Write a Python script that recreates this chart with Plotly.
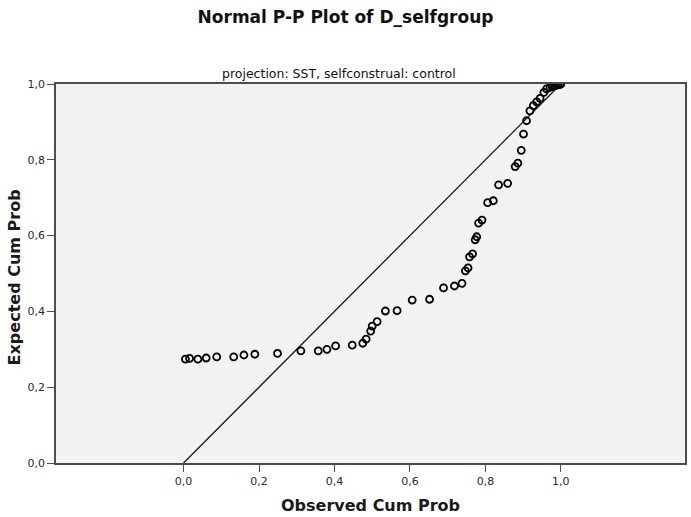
import plotly.graph_objects as go

# Observed cumulative probability (x) and expected cumulative probability (y)
observed_cum_prob = [
    0.005, 0.016, 0.038, 0.060, 0.088, 0.133, 0.160, 0.189, 0.249, 0.311,
    0.357, 0.380, 0.403, 0.447, 0.475, 0.484, 0.496, 0.500, 0.513, 0.535,
    0.566, 0.606, 0.652, 0.689, 0.718, 0.738, 0.747, 0.754, 0.758, 0.766,
    0.773, 0.777, 0.782, 0.791, 0.806, 0.821, 0.835, 0.859, 0.879, 0.886,
    0.895, 0.901, 0.909, 0.918, 0.927, 0.936, 0.945, 0.955, 0.962, 0.971,
    0.977, 0.983, 0.988, 0.993, 0.998, 1.000,
]
expected_cum_prob = [
    0.274, 0.276, 0.274, 0.277, 0.280, 0.280, 0.285, 0.287, 0.289, 0.296,
    0.296, 0.300, 0.309, 0.311, 0.316, 0.327, 0.348, 0.361, 0.373, 0.401,
    0.402, 0.430, 0.432, 0.462, 0.467, 0.474, 0.507, 0.515, 0.544, 0.552,
    0.589, 0.597, 0.633, 0.641, 0.687, 0.692, 0.734, 0.738, 0.782, 0.791,
    0.825, 0.868, 0.903, 0.929, 0.943, 0.953, 0.962, 0.978, 0.987, 0.991,
    0.993, 0.995, 0.997, 0.998, 0.999, 1.000,
]
reference_line = [0.0, 1.0]

tick_values = [0.0, 0.2, 0.4, 0.6, 0.8, 1.0]
tick_labels = ["0,0", "0,2", "0,4", "0,6", "0,8", "1,0"]

FONT = "DejaVu Sans"

fig = go.Figure()
fig.add_trace(go.Scatter(
    x=reference_line, y=reference_line, mode="lines",
    line=dict(color="#1a1a1a", width=1.3), hoverinfo="skip", showlegend=False,
))
fig.add_trace(go.Scatter(
    x=observed_cum_prob, y=expected_cum_prob, mode="markers",
    marker=dict(symbol="circle-open", size=7, color="black", line=dict(width=1.8, color="black")),
    showlegend=False,
))

axis_common = dict(
    showgrid=False, zeroline=False, showline=True, mirror=True,
    linecolor="#4d4d4d", linewidth=1.5,
    ticks="outside", ticklen=7, tickwidth=1.3, tickcolor="#4d4d4d",
    tickvals=tick_values, ticktext=tick_labels,
    tickfont=dict(family=FONT, size=11, color="#2a2a2a"),
)

fig.update_layout(
    width=691, height=517,
    margin=dict(l=56, r=4, t=84, b=54),
    paper_bgcolor="white", plot_bgcolor="#f2f2f2",
    title=dict(text="<b>Normal P-P Plot of D_selfgroup</b>", x=0.5, xanchor="center",
               y=1 - 17 / 517, yanchor="middle", yref="container",
               font=dict(family=FONT, size=17, color="#111111")),
    xaxis=dict(range=[-0.338, 1.329], **axis_common),
    yaxis=dict(range=[0, 1], **axis_common),
    annotations=[
        dict(text="projection: SST, selfconstrual: control", xref="paper", yref="paper",
             x=0.45, y=1.027, xanchor="center", yanchor="middle", showarrow=False,
             font=dict(family=FONT, size=12.5, color="#111111")),
        dict(text="<b>Observed Cum Prob</b>", xref="paper", yref="paper",
             x=0.5, y=-0.113, xanchor="center", yanchor="middle", showarrow=False,
             font=dict(family=FONT, size=16, color="#1a1a1a")),
        dict(text="<b>Expected Cum Prob</b>", xref="paper", yref="paper",
             x=-0.0666, y=0.49, xanchor="center", yanchor="middle", showarrow=False,
             textangle=-90,
             font=dict(family=FONT, size=16, color="#1a1a1a")),
    ],
)

fig.write_html("out.html")
